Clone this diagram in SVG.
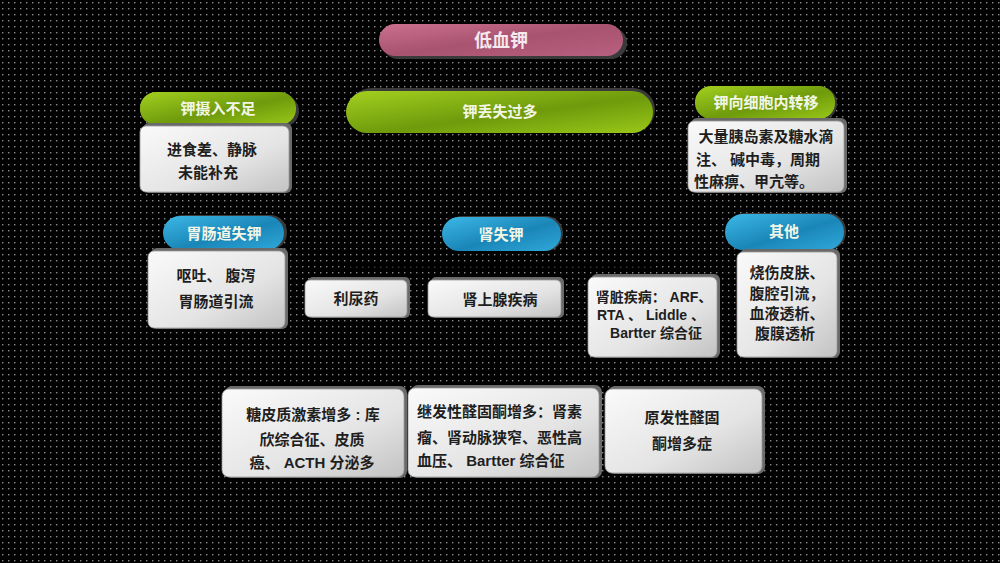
<svg xmlns="http://www.w3.org/2000/svg" width="1000" height="563" viewBox="0 0 1000 563">
<defs>
<pattern id="dots" width="6" height="6" patternUnits="userSpaceOnUse">
<rect width="6" height="6" fill="#000"/>
<rect x="2" y="2" width="1.4" height="1.4" fill="#8a8a8a"/>
</pattern>
<linearGradient id="gPink" x1="0" y1="0" x2="1" y2="1">
<stop offset="0" stop-color="#cc7090"/>
<stop offset="0.5" stop-color="#a8536f"/>
<stop offset="1" stop-color="#b86080"/>
</linearGradient>
<linearGradient id="gGreen" x1="0" y1="0" x2="1" y2="1">
<stop offset="0" stop-color="#a4d020"/>
<stop offset="0.55" stop-color="#6e9a0c"/>
<stop offset="1" stop-color="#9ac818"/>
</linearGradient>
<linearGradient id="gBlue" x1="0" y1="0" x2="1" y2="1">
<stop offset="0" stop-color="#3cb8e6"/>
<stop offset="0.55" stop-color="#1a86b8"/>
<stop offset="1" stop-color="#30a8da"/>
</linearGradient>
<linearGradient id="gWhite" x1="0" y1="0" x2="1" y2="1">
<stop offset="0" stop-color="#fafafa"/>
<stop offset="0.6" stop-color="#e4e4e4"/>
<stop offset="1" stop-color="#c2c2c2"/>
</linearGradient>
<style>
.pill-sh{fill:#3a3a3a}
.box-sh{fill:#6a6a6a}
.box{fill:url(#gWhite);stroke:#9a9a9a;stroke-width:0.8}
.pink{fill:url(#gPink)}
.green{fill:url(#gGreen)}
.blue{fill:url(#gBlue)}
.lt{font-family:"Liberation Sans","Noto Sans CJK SC",sans-serif;font-size:15px;fill:#f2f6e6;text-anchor:middle;font-weight:bold}
.bt{font-family:"Liberation Sans","Noto Sans CJK SC",sans-serif;font-size:15px;fill:#1e1e1e;text-anchor:middle;font-weight:bold}
.sm{font-size:14px}
.conn{stroke:#000;stroke-width:1.5;fill:none}
</style>
</defs>
<rect width="1000" height="563" fill="url(#dots)"/>

<g id="connectors">
<path class="conn" d="M502,133 V216"/>
<path class="conn" d="M502,251 V278"/>
<path class="conn" d="M346,266 H653 M346,266 V278 M653,266 V275"/>
<path class="conn" d="M496,317 V387"/>
</g>

<g id="n-title">
<rect class="pill-sh" x="382" y="27" width="245" height="32" rx="16"/>
<rect class="pink" x="379" y="24" width="244" height="32" rx="16"/>
<text class="lt" x="501" y="47" style="font-size:18px;fill:#f5e8ee">低血钾</text>
</g>

<g id="n-intake">
<rect class="pill-sh" x="143" y="95" width="156" height="32" rx="16"/>
<rect class="green" x="140" y="92" width="156" height="33" rx="16"/>
<text class="lt" x="218" y="114">钾摄入不足</text>
</g>
<g id="n-intake-d">
<rect class="box-sh" x="143" y="123" width="149" height="70" rx="6"/>
<rect class="box" x="140" y="126" width="149" height="66" rx="6"/>
<text class="bt" x="212" y="155">进食差、静脉</text>
<text class="bt" x="208" y="178">未能补充</text>
</g>

<g id="n-loss">
<rect class="pill-sh" x="349" y="88" width="306" height="44" rx="22"/>
<rect class="green" x="346" y="91" width="307" height="42" rx="21"/>
<text class="lt" x="500" y="117">钾丢失过多</text>
</g>

<g id="n-shift">
<rect class="pill-sh" x="698" y="87" width="139" height="33" rx="16"/>
<rect class="green" x="695" y="86" width="140" height="33" rx="16"/>
<text class="lt" x="766" y="108">钾向细胞内转移</text>
</g>
<g id="n-shift-d">
<rect class="box-sh" x="691" y="118" width="156" height="75" rx="6"/>
<rect class="box" x="688" y="121" width="156" height="71" rx="6"/>
<text class="bt" x="766" y="142">大量胰岛素及糖水滴</text>
<text class="bt" x="758" y="165">注、 碱中毒，周期</text>
<text class="bt" x="754" y="187">性麻痹、甲亢等。</text>
</g>

<g id="n-gi">
<rect class="pill-sh" x="166" y="215" width="121" height="35" rx="17"/>
<rect class="blue" x="163" y="216" width="121" height="34" rx="17"/>
<text class="lt" x="224" y="239">胃肠道失钾</text>
</g>
<g id="n-gi-d">
<rect class="box-sh" x="151" y="248" width="137" height="81" rx="6"/>
<rect class="box" x="148" y="251" width="137" height="77" rx="6"/>
<text class="bt" x="216" y="281">呕吐、 腹泻</text>
<text class="bt" x="216" y="307">胃肠道引流</text>
</g>

<g id="n-renal">
<rect class="pill-sh" x="445" y="216" width="118" height="35" rx="17"/>
<rect class="blue" x="442" y="217" width="119" height="34" rx="17"/>
<text class="lt" x="501" y="240">肾失钾</text>
</g>

<g id="n-diuretic">
<rect class="box-sh" x="308" y="277" width="102" height="41" rx="5"/>
<rect class="box" x="305" y="280" width="102" height="37" rx="5"/>
<text class="bt" x="356" y="304">利尿药</text>
</g>

<g id="n-adrenal">
<rect class="box-sh" x="431" y="277" width="133" height="41" rx="5"/>
<rect class="box" x="428" y="280" width="133" height="37" rx="5"/>
<text class="bt" x="500" y="305">肾上腺疾病</text>
</g>

<g id="n-kidney">
<rect class="box-sh" x="591" y="274" width="129" height="84" rx="6"/>
<rect class="box" x="588" y="277" width="129" height="80" rx="6"/>
<text class="bt sm" x="654" y="302">肾脏疾病： ARF、</text>
<text class="bt sm" x="651" y="320">RTA 、 Liddle 、</text>
<text class="bt sm" x="656" y="338">Bartter 综合征</text>
</g>

<g id="n-other">
<rect class="pill-sh" x="728" y="213" width="118" height="37" rx="18"/>
<rect class="blue" x="725" y="214" width="119" height="36" rx="18"/>
<text class="lt" x="784" y="237">其他</text>
</g>
<g id="n-other-d">
<rect class="box-sh" x="740" y="249" width="100" height="109" rx="6"/>
<rect class="box" x="737" y="252" width="100" height="105" rx="6"/>
<text class="bt" x="787" y="278">烧伤皮肤、</text>
<text class="bt" x="787" y="299">腹腔引流，</text>
<text class="bt" x="787" y="319">血液透析、</text>
<text class="bt" x="785" y="339">腹膜透析</text>
</g>

<g id="n-gluco">
<rect class="box-sh" x="225" y="386" width="182" height="92" rx="7"/>
<rect class="box" x="222" y="389" width="182" height="88" rx="7"/>
<text class="bt" x="313" y="420">糖皮质激素增多 : 库</text>
<text class="bt" x="312" y="445">欣综合征、皮质</text>
<text class="bt" x="312" y="468">癌、 ACTH 分泌多</text>
</g>

<g id="n-secondary">
<rect class="box-sh" x="411" y="385" width="191" height="93" rx="7"/>
<rect class="box" x="408" y="388" width="191" height="89" rx="7"/>
<text class="bt" x="417" y="417" style="text-anchor:start">继发性醛固酮增多：肾素</text>
<text class="bt" x="417" y="443" style="text-anchor:start">瘤、肾动脉狭窄、恶性高</text>
<text class="bt" x="417" y="466" style="text-anchor:start">血压、 Bartter 综合征</text>
</g>

<g id="n-primary">
<rect class="box-sh" x="608" y="386" width="157" height="88" rx="7"/>
<rect class="box" x="605" y="389" width="157" height="84" rx="7"/>
<text class="bt" x="682" y="423">原发性醛固</text>
<text class="bt" x="682" y="449">酮增多症</text>
</g>
</svg>
